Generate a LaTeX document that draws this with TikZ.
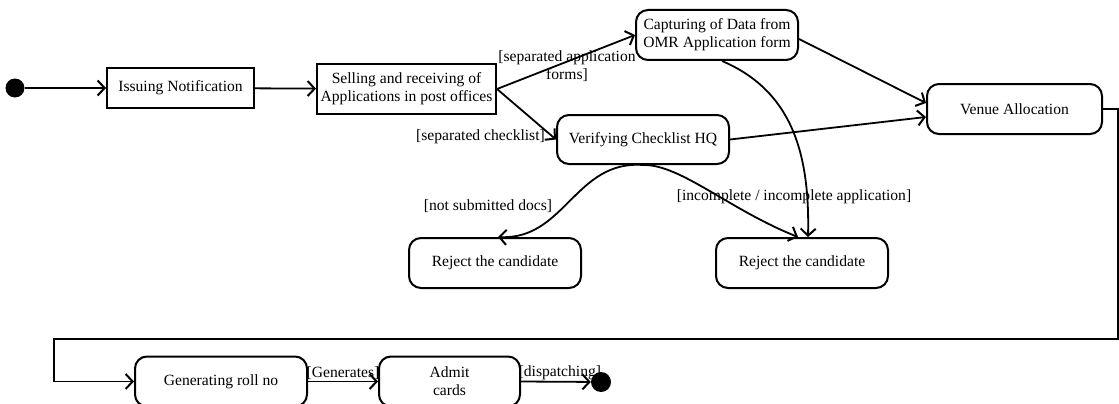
\documentclass[tikz,border=0pt]{standalone}
\usepackage{fontspec}
\setmainfont{Liberation Serif}
\usetikzlibrary{arrows.meta}
\begin{document}
\begin{tikzpicture}[x=1pt,y=-1pt,
  every node/.style={font=\fontsize{15.6}{18}\selectfont, align=center},
  act/.style={draw, line width=2pt, rounded corners=12pt, minimum height=50pt, inner sep=2pt},
  sq/.style={draw, line width=2pt, inner sep=2pt},
  dot/.style={circle, fill=black, draw=none, inner sep=0pt},
  arr/.style={line width=1.8pt, -{Straight Barb[length=7pt,width=15pt,line width=2pt]}},
  guard/.style={inner sep=1pt}]
\useasboundingbox (0,0) rectangle (1119,404);
\clip (0,0) rectangle (1119,404);

% states
\node[dot, minimum size=19pt] (start) at (15,88) {};
\node[sq, minimum width=147pt, minimum height=39pt] (issue) at (180.5,88) {Issuing Notification};
\node[sq, minimum width=179pt, minimum height=50pt] (sell) at (406.5,89) {Selling and receiving of\\Applications in post offices};
\node[act, minimum width=162pt] (capt) at (717,35) {Capturing of Data from\\OMR Application form};
\node[act, minimum width=172pt, minimum height=49pt] (verify) at (643,139.5) {Verifying Checklist HQ};
\node[act, minimum width=175pt] (venue) at (1014.5,109) {Venue Allocation};
\node[act, minimum width=172pt] (rejA) at (495,263) {Reject the candidate};
\node[act, minimum width=172pt] (rejB) at (802,263) {Reject the candidate};
\node[act, minimum width=172pt] (gen) at (221,381.5) {Generating roll no};
\node[act, minimum width=141pt] (admit) at (449.5,381.5) {Admit\\cards};
\node[dot, minimum size=20pt] (final) at (601,382) {};

% guards
\node[guard] (gApp) at (567,66) {[separated application\\forms]};
\node[guard, anchor=east] (gChk) at (546,137) {[separated checklist]};
\node[guard] (gDocs) at (488,206) {[not submitted docs]};
\node[guard] (gInc) at (794,197) {[incomplete / incomplete application]};

% transitions
\draw[arr] (start) -- (issue);
\draw[arr] (issue) -- (sell);
\draw[arr] (sell.east) -- (capt.west);
\draw[arr] (sell.east) -- (verify.west);
\draw[arr] ([yshift=-4pt]capt.east) -- ([yshift=6pt]venue.west);
\draw[arr] (verify.east) -- ([yshift=-8pt]venue.west);
\draw[arr] (verify.south) .. controls (575,160) and (565,240) .. ([xshift=3pt]rejA.north);
\draw[arr] (verify.south) .. controls (680,164) and (730,210) .. ([xshift=-4pt]rejB.north);
\draw[arr] ([xshift=5pt]capt.south) .. controls (790,90) and (810,150) .. ([xshift=6pt]rejB.north);

\coordinate (loopR) at (1118,339);
\coordinate (loopL) at (54,339);
\draw[arr, line width=1.5pt] (venue.east) -| (loopR) -- (loopL) |- (gen.west);

\draw[arr] (gen.east) -- node[guard, above] (gGen) {[Generates]} (admit.west);
\draw[arr] (admit.east) -- node[guard, above, xshift=4pt] (gDis) {[dispatching]} (final);
\end{tikzpicture}
\end{document}
